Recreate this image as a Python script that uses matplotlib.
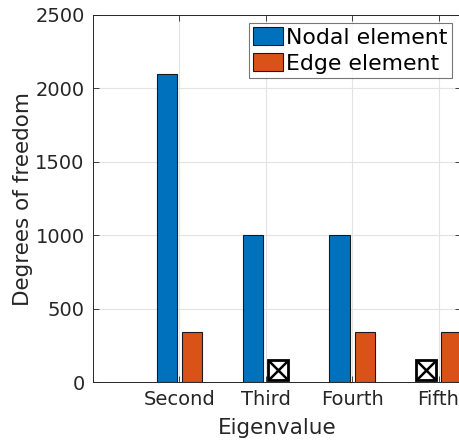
import numpy as np
import matplotlib.pyplot as plt

categories = ["Second", "Third", "Fourth", "Fifth"]
nodal = [2100, 1000, 1000, np.nan]
edge = [340, np.nan, 340, 340]
missing_marker = 80  # height where the "no result" box is drawn

blue = "#0072BD"
orange = "#D95319"
txt = "#262626"

plt.rcParams['font.family'] = 'DejaVu Sans'
fig = plt.figure(figsize=(4.6, 4.42), dpi=100)
ax = fig.add_axes([93 / 460, 60 / 442, 368 / 460, 367 / 442])

x = np.arange(2, 2 + len(categories))
w = 0.235
off = 0.145
ax.bar(x - off, nodal, w, color=blue, edgecolor="#1a1a1a", linewidth=0.8,
       label="Nodal element", zorder=3)
ax.bar(x + off, edge, w, color=orange, edgecolor="#1a1a1a", linewidth=0.8,
       label="Edge element", zorder=3)

# mark missing results with a boxed cross
for xs, vals in ((x - off, nodal), (x + off, edge)):
    for xi, v in zip(xs, vals):
        if np.isnan(v):
            ax.plot(xi, missing_marker, marker="s", ms=14, mfc="white",
                    mec="black", mew=2, zorder=4, clip_on=False)
            ax.plot(xi, missing_marker, marker="x", ms=12.5, mec="black",
                    mew=1.8, zorder=5, clip_on=False)

ax.set_xlim(1, 5.26)
ax.set_ylim(0, 2500)
ax.set_xticks(x)
ax.set_xticklabels(categories)
ax.set_yticks([0, 500, 1000, 1500, 2000, 2500])

ax.grid(True, color="#e3e3e3", linewidth=0.8, zorder=0)
ax.set_axisbelow(True)
ax.tick_params(direction="in", length=4, width=0.6, colors=txt,
               labelsize=14, top=True, right=True, pad=6)
for s in ax.spines.values():
    s.set_color(txt)
    s.set_linewidth(0.7)

ax.set_xlabel("Eigenvalue", fontsize=15.5, color=txt, labelpad=6)
ax.set_ylabel("Degrees of freedom", fontsize=15.5, color=txt, labelpad=2)

leg = ax.legend(loc="upper right", bbox_to_anchor=(452 / 460, 1 - 23 / 442),
                bbox_transform=fig.transFigure, fontsize=15.8, frameon=True,
                fancybox=False, borderpad=0.2, labelspacing=0.25,
                handlelength=1.35, handleheight=0.85, handletextpad=0.15,
                borderaxespad=0)
leg.get_frame().set_edgecolor("#555555")
leg.get_frame().set_linewidth(0.8)

fig.savefig("out.png", dpi=100)
